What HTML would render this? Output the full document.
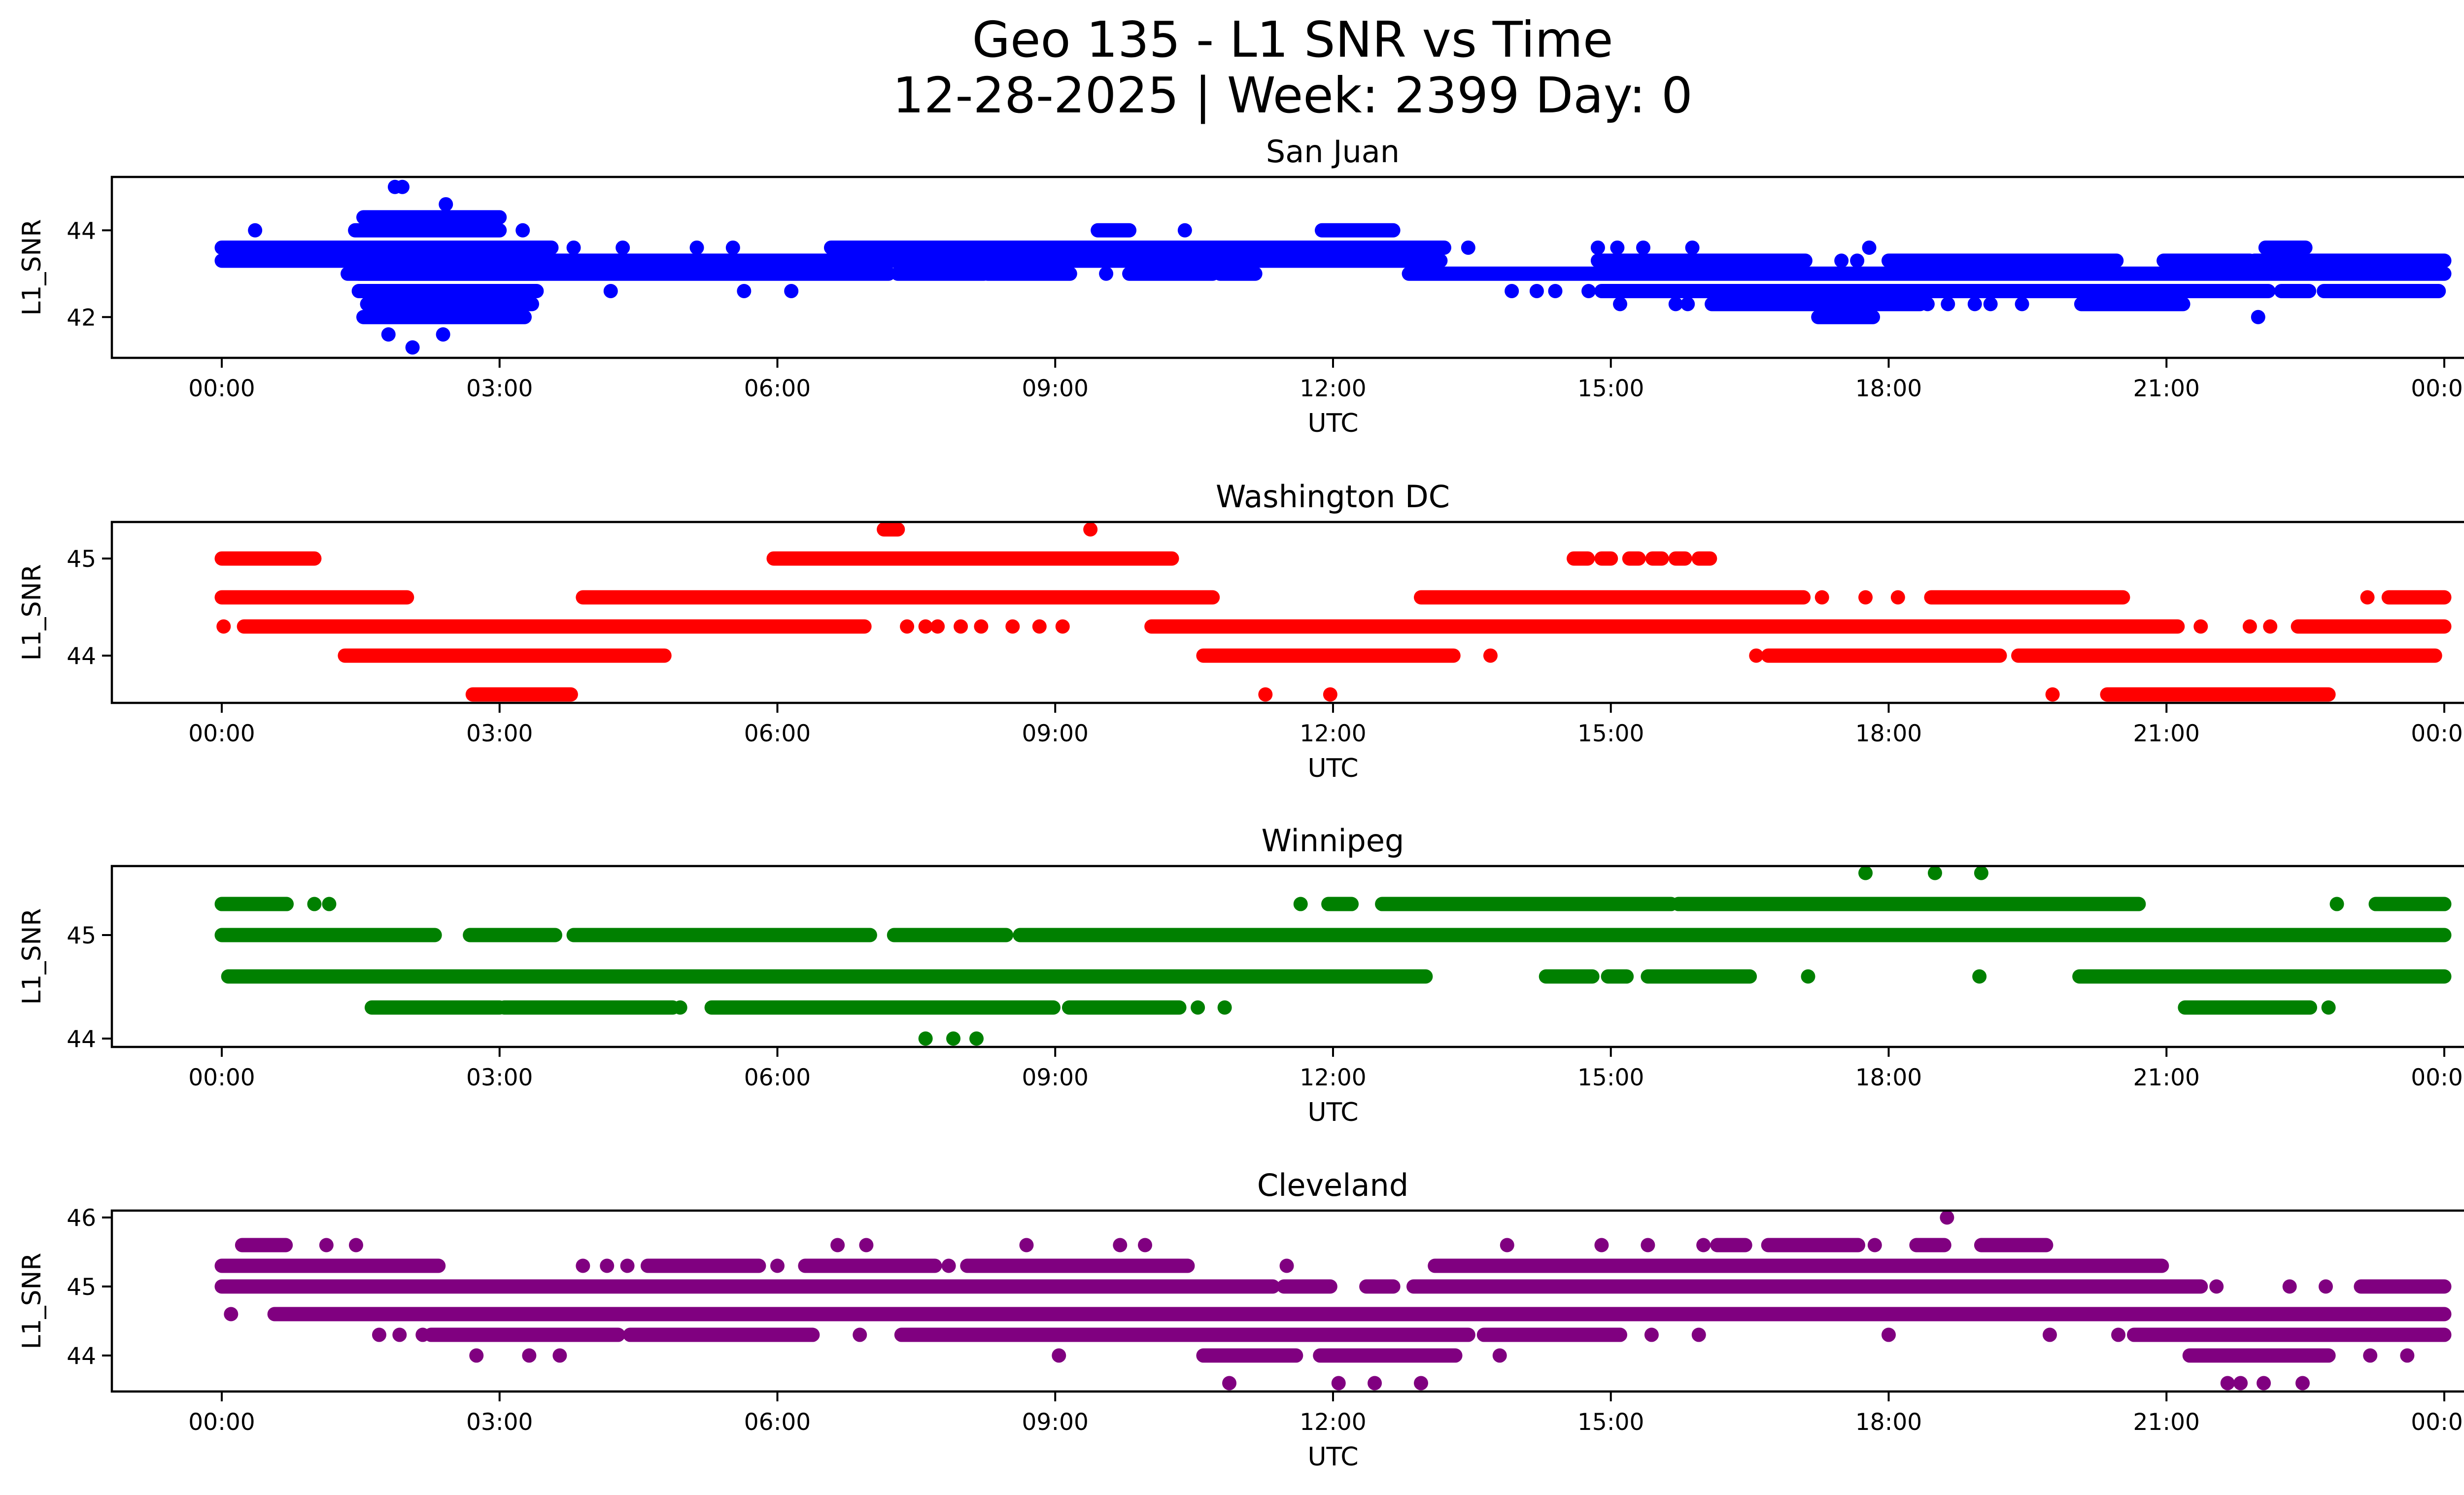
<!DOCTYPE html>
<html><head><meta charset="utf-8"><style>
html,body{margin:0;padding:0;background:#fff;}
svg{display:block;font-family:"DejaVu Sans","Liberation Sans",sans-serif;}
</style></head><body>
<svg id="fig" width="5225" height="3033" viewBox="0 0 5225 3033" xmlns="http://www.w3.org/2000/svg">
<rect width="5225" height="3033" fill="#fff"/>
<text x="2623" y="115" font-size="100" text-anchor="middle">Geo 135 - L1 SNR vs Time</text>
<text x="2623" y="228" font-size="100" text-anchor="middle">12-28-2025 | Week: 2399 Day: 0</text>
</svg>
<script>
// ---- data: runs of samples at quantized SNR levels (level, start hour, end hour) ----
const sjLevel=[45.0,45.0,44.6,44.3,44.0,44.0,44.0,44.0,44.0,44.0,43.6,43.6,43.6,43.6,43.6,43.6,43.6,43.6,43.6,43.6,43.6,43.6,43.6,43.3,43.3,43.3,43.3,43.3,43.3,43.3,43.0,43.0,43.0,43.0,43.0,43.0,43.0,43.0,42.6,42.6,42.6,42.6,42.6,42.6,42.6,42.6,42.6,42.6,42.6,42.3,42.3,42.3,42.3,42.3,42.3,42.3,42.3,42.3,42.3,42.3,42.0,42.0,42.0,41.6,41.6,41.3];
const sjStart=[1.87,1.95,2.42,1.53,0.36,1.44,3.25,9.46,10.4,11.88,0,3.8,4.33,5.13,5.52,6.58,13.46,14.86,15.07,15.35,15.88,17.79,22.07,0,14.86,17.49,17.66,18.0,20.97,21.95,1.36,7.3,8.27,9.55,9.8,10.78,12.82,1.48,1.48,4.2,5.64,6.15,13.93,14.2,14.4,14.76,14.9,22.24,22.7,1.57,15.1,15.7,15.83,16.09,18.42,18.64,18.93,19.1,19.44,20.08,1.53,17.24,21.99,1.8,2.39,2.06];
const sjEnd=[1.87,1.95,2.42,3.0,0.36,3.0,3.25,9.8,10.4,12.65,3.56,3.8,4.33,5.13,5.52,13.2,13.46,14.86,15.07,15.35,15.88,17.79,22.5,13.16,17.1,17.49,17.66,20.46,21.9,24,7.2,8.23,9.16,9.55,10.7,11.16,24,3.4,3.4,4.2,5.64,6.15,13.93,14.2,14.4,14.76,22.1,22.54,23.94,3.35,15.1,15.7,15.83,18.34,18.42,18.64,18.93,19.1,19.44,21.18,3.27,17.83,21.99,1.8,2.39,2.06];

const dcLevel=[45.3,45.3,45.0,45.0,45.0,45.0,45.0,45.0,45.0,45.0,44.6,44.6,44.6,44.6,44.6,44.6,44.6,44.6,44.6,44.3,44.3,44.3,44.3,44.3,44.3,44.3,44.3,44.3,44.3,44.3,44.3,44.3,44.3,44.3,44.0,44.0,44.0,44.0,44.0,44.0,43.6,43.6,43.6,43.6,43.6];
const dcStart=[7.15,9.38,0,5.96,14.6,14.9,15.2,15.45,15.7,15.95,0,3.9,12.95,17.28,17.75,18.1,18.46,23.17,23.4,0.02,0.24,7.4,7.6,7.73,7.98,8.2,8.54,8.83,9.08,10.04,21.37,21.9,22.12,22.42,1.33,10.6,13.7,16.57,16.7,19.4,2.71,11.27,11.97,19.77,20.36];
const dcEnd=[7.3,9.38,1.0,10.26,14.75,15.0,15.3,15.55,15.8,16.07,2.0,10.7,17.08,17.28,17.75,18.1,20.53,23.17,24,0.02,6.94,7.4,7.6,7.73,7.98,8.2,8.54,8.83,9.08,21.12,21.37,21.9,22.12,24,4.78,13.3,13.7,16.57,19.2,23.9,3.77,11.27,11.97,19.77,22.75];

const wpLevel=[45.6,45.6,45.6,45.3,45.3,45.3,45.3,45.3,45.3,45.3,45.3,45.3,45.0,45.0,45.0,45.0,45.0,44.6,44.6,44.6,44.6,44.6,44.6,44.6,44.3,44.3,44.3,44.3,44.3,44.3,44.3,44.3,44.3,44.0,44.0,44.0];
const wpStart=[17.75,18.5,19.0,0,1.0,1.16,11.65,11.95,12.53,15.73,22.84,23.26,0,2.68,3.8,7.26,8.62,0.07,14.3,14.97,15.4,17.13,18.98,20.06,1.62,3.05,4.95,5.29,9.15,10.54,10.83,21.2,22.75,7.6,7.9,8.15];
const wpEnd=[17.75,18.5,19.0,0.7,1.0,1.16,11.65,12.2,15.65,20.7,22.84,24,2.3,3.6,7.0,8.47,24,13.0,14.8,15.17,16.5,17.13,18.98,24,3.0,4.87,4.95,8.98,10.34,10.54,10.83,22.55,22.75,7.6,7.9,8.15];

const clLevel=[46.0,45.6,45.6,45.6,45.6,45.6,45.6,45.6,45.6,45.6,45.6,45.6,45.6,45.6,45.6,45.6,45.6,45.6,45.3,45.3,45.3,45.3,45.3,45.3,45.3,45.3,45.3,45.3,45.3,45.0,45.0,45.0,45.0,45.0,45.0,45.0,45.0,44.6,44.6,44.3,44.3,44.3,44.3,44.3,44.3,44.3,44.3,44.3,44.3,44.3,44.3,44.3,44.3,44.0,44.0,44.0,44.0,44.0,44.0,44.0,44.0,44.0,44.0,43.6,43.6,43.6,43.6,43.6,43.6,43.6,43.6];
const clStart=[18.63,0.22,1.13,1.45,6.65,6.96,8.69,9.7,9.97,13.88,14.9,15.4,16.0,16.15,16.7,17.85,18.3,19.0,0,3.9,4.16,4.38,4.6,6.0,6.3,7.85,8.05,11.5,13.1,0,11.47,12.36,12.87,21.54,22.33,22.72,23.1,0.1,0.57,1.7,1.92,2.26,4.41,6.89,7.34,13.63,15.44,15.95,18.0,19.74,20.48,20.65,2.17,2.75,3.32,3.65,9.04,10.6,11.86,13.8,21.25,23.2,23.6,10.88,12.06,12.45,12.95,21.66,21.8,22.05,22.47];
const clEnd=[18.63,0.69,1.13,1.45,6.65,6.96,8.69,9.7,9.97,13.88,14.9,15.4,16.0,16.45,17.67,17.85,18.6,19.7,2.34,3.9,4.16,4.38,5.8,6.0,7.7,7.85,10.43,11.5,20.95,11.35,11.97,12.65,21.37,21.54,22.33,22.72,24,0.1,24,1.7,1.92,4.28,6.38,6.89,13.46,15.1,15.44,15.95,18.0,19.74,20.48,24,2.17,2.75,3.32,3.65,9.04,11.6,13.32,13.8,22.75,23.2,23.6,10.88,12.06,12.45,12.95,21.66,21.8,22.05,22.47];

const xTickHours=[0,3,6,9,12,15,18,21,24];
const xTickLabels=["00:00","03:00","06:00","09:00","12:00","15:00","18:00","21:00","00:00"];

const panels=[
 {name:"San Juan",key:"san-juan",color:"#0000ff",lv:sjLevel,st:sjStart,en:sjEnd,top:359,ymin:41.06,ymax:45.23,ticks:[42,44]},
 {name:"Washington DC",key:"washington-dc",color:"#ff0000",lv:dcLevel,st:dcStart,en:dcEnd,top:1059,ymin:43.513,ymax:45.376,ticks:[44,45]},
 {name:"Winnipeg",key:"winnipeg",color:"#008000",lv:wpLevel,st:wpStart,en:wpEnd,top:1757,ymin:43.919,ymax:45.667,ticks:[44,45]},
 {name:"Cleveland",key:"cleveland",color:"#800080",lv:clLevel,st:clStart,en:clEnd,top:2456,ymin:43.479,ymax:46.1,ticks:[44,45,46]}
];

const NS="http://www.w3.org/2000/svg";
const svg=document.getElementById('fig');
const L=227,R=5182,H=367,X0=450,X1=4960;
function mk(tag,attrs,parent){const e=document.createElementNS(NS,tag);for(const k in attrs)e.setAttribute(k,attrs[k]);parent.appendChild(e);return e;}
const xScale=h=>X0+(X1-X0)*h/24;

panels.forEach(p=>{
  const yScale=v=>p.top+H*(p.ymax-v)/(p.ymax-p.ymin);
  const g=mk('g',{},svg);
  
  
  const t=mk('text',{x:(L+R)/2,y:p.top-30,'font-size':62,'text-anchor':'middle'},g);
  t.textContent=p.name;
  
  
  const pts=mk('g',{fill:p.color,stroke:p.color,'stroke-width':29,'stroke-linecap':'round'},g);
  
  
  for(let i=0;i<p.lv.length;i++){
    const y=yScale(p.lv[i]);
    const m=mk('line',{x1:xScale(p.st[i]),x2:xScale(p.en[i]),y1:y,y2:y},pts);
    
    
  }
  const frame=mk('rect',{x:L,y:p.top,width:R-L,height:H,fill:'none',stroke:'#000','stroke-width':4.5},g);
  
  
  xTickHours.forEach((h,i)=>{
    const x=xScale(h);
    const tk=mk('line',{x1:x,x2:x,y1:p.top+H,y2:p.top+H+20,stroke:'#000','stroke-width':4},g);
    
    
    const tl=mk('text',{x:x,y:p.top+H+78,'font-size':47,'text-anchor':'middle'},g);
    tl.textContent=xTickLabels[i];
    
    
  });
  p.ticks.forEach(v=>{
    const y=yScale(v);
    const tk=mk('line',{x1:L-20,x2:L,y1:y,y2:y,stroke:'#000','stroke-width':4},g);
    
    
    const tl=mk('text',{x:L-32,y:y+17,'font-size':47,'text-anchor':'end'},g);
    tl.textContent=String(v);
    
    
  });
  const xl=mk('text',{x:2705,y:p.top+H+150,'font-size':52,'text-anchor':'middle'},g);
  xl.textContent="UTC";
  
  
  const yc=p.top+H/2;
  const yl=mk('text',{x:82,y:yc,'font-size':52,'text-anchor':'middle',transform:`rotate(-90 82 ${yc})`},g);
  yl.textContent="L1_SNR";
  
  
});
</script>
</body></html>
